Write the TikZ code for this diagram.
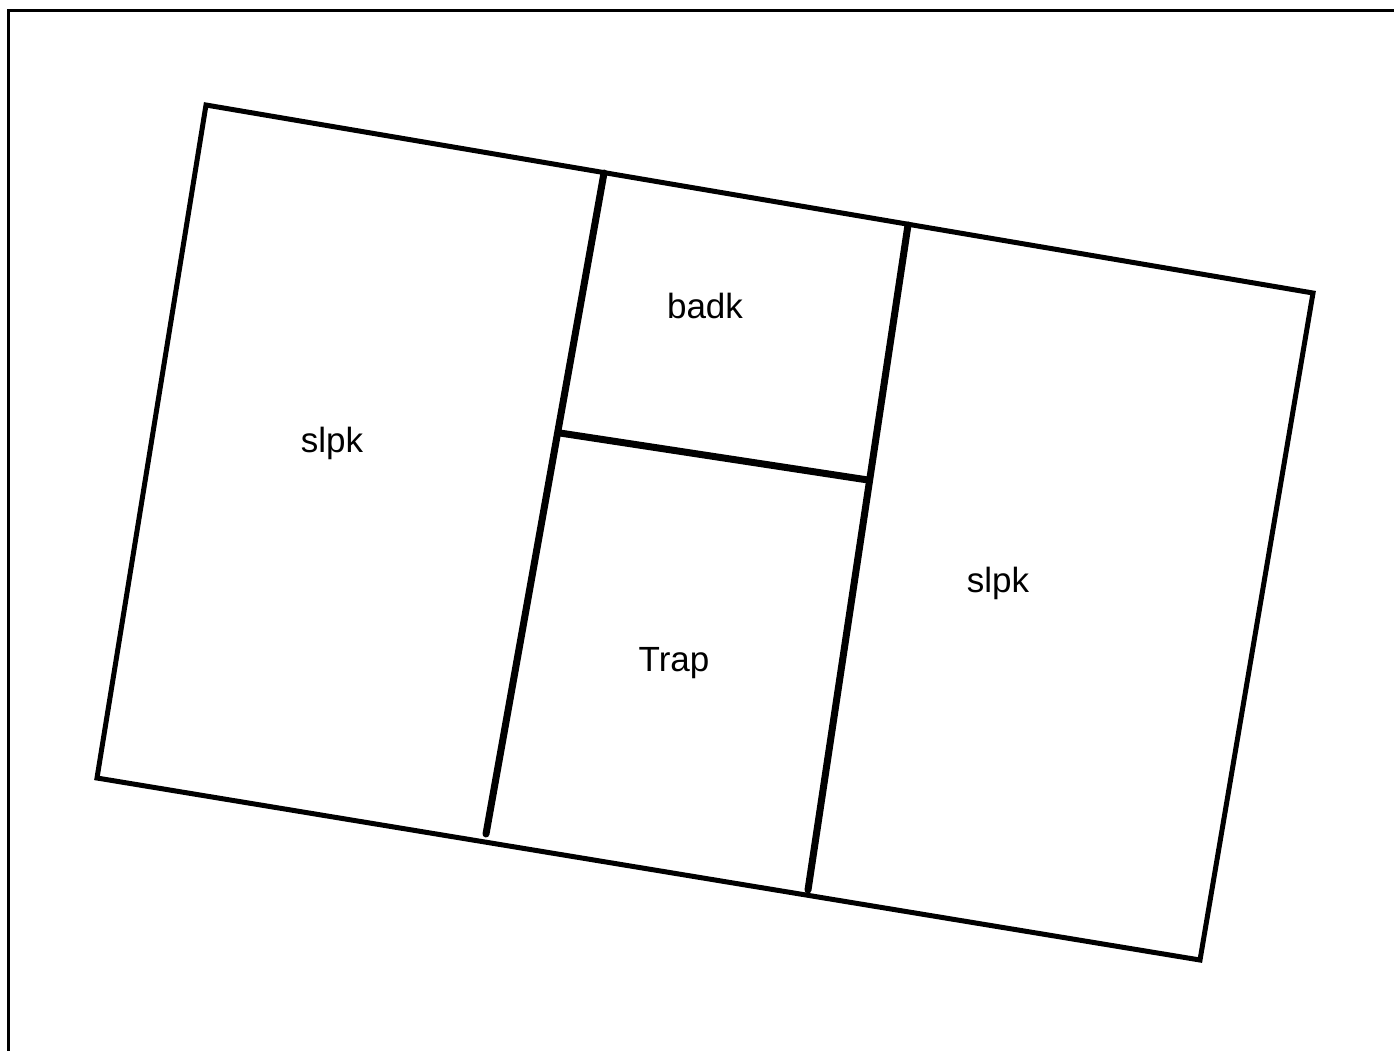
\documentclass[tikz,border=0pt]{standalone}
\usepackage{fontspec}
\setmainfont{Liberation Sans}
\begin{document}
\begin{tikzpicture}[x=1pt,y=-1pt,
  framestyle/.style={line width=3pt},
  outerwall/.style={line width=5pt, line join=miter},
  innerwall/.style={line width=7pt, line cap=round},
  roomlabel/.style={anchor=base, inner sep=0pt, font=\fontsize{35}{42}\selectfont}]
\useasboundingbox (0,0) rectangle (1394,1050);
\fill[white] (0,0) rectangle (1394,1050);
% frame
\coordinate (f1) at (8.5,1060);
\coordinate (f2) at (8.5,10.5);
\coordinate (f3) at (1400,10.5);
\draw[framestyle] (f1) -- (f2) -- (f3);
% outer walls
\coordinate (A) at (206,105);
\coordinate (B) at (1313,293);
\coordinate (C) at (1200,960);
\coordinate (D) at (97,778);
\draw[outerwall] (A) -- (B) -- (C) -- (D) -- cycle;
% inner walls
\coordinate (w1t) at (604,173);
\coordinate (w1b) at (486,834);
\coordinate (w2t) at (908,225);
\coordinate (w2b) at (808,890);
\coordinate (h1) at (560,433);
\coordinate (h2) at (868,480);
\draw[innerwall] (w1t) -- (w1b);
\draw[innerwall] (w2t) -- (w2b);
\draw[innerwall, line cap=butt] (h1) -- (h2);
% labels
\node[roomlabel] (l1) at (332,452) {slpk};
\node[roomlabel] (l2) at (705,318) {badk};
\node[roomlabel] (l3) at (674,671) {Trap};
\node[roomlabel] (l4) at (998,592) {slpk};
\end{tikzpicture}
\end{document}
